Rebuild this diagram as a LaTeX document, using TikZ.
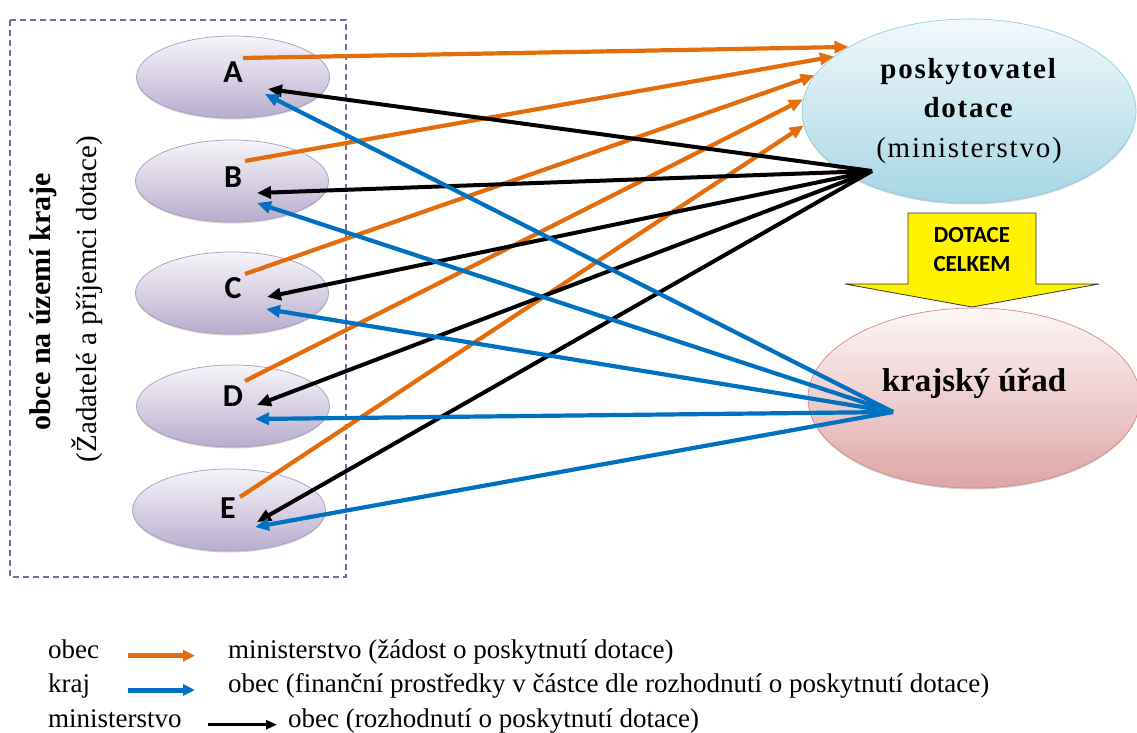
\documentclass[tikz,border=0pt]{standalone}
\usepackage{fontspec}
\setmainfont{Liberation Serif}
\newfontfamily\calibrifont{Carlito}
\newfontfamily\spacedfont[LetterSpace=6]{Liberation Serif}
\usetikzlibrary{arrows.meta,positioning,shapes.geometric,shadows}

\definecolor{reqorange}{HTML}{E46C0A}
\definecolor{payblue}{HTML}{0070C0}
\definecolor{frameviolet}{HTML}{8064A2}
\definecolor{obectop}{HTML}{F7F5FA}
\definecolor{obecbot}{HTML}{B9ADCE}
\definecolor{obecline}{HTML}{A899C6}
\definecolor{mintop}{HTML}{F2F9FC}
\definecolor{minbot}{HTML}{A6D5E4}
\definecolor{minline}{HTML}{93CDDD}
\definecolor{krajtop}{HTML}{FDF7F7}
\definecolor{krajbot}{HTML}{DFA6A6}
\definecolor{krajline}{HTML}{D48A8A}

\tikzset{
  obec/.style={ellipse, minimum width=193pt, minimum height=82pt, inner sep=0pt,
    draw=obecline, line width=0.7pt, top color=obectop, bottom color=obecbot,
    drop shadow={shadow xshift=0pt, shadow yshift=-1.5pt, opacity=0.35}},
  letter/.style={font=\calibrifont\bfseries\fontsize{32}{34}\selectfont, inner sep=0pt},
  sidetxt/.style={rotate=90, inner sep=0pt, font=\fontsize{29}{32}\selectfont},
  zadost/.style={draw=reqorange, line width=4.2pt, -{Triangle[length=14pt,width=12pt]}},
  rozhodnuti/.style={draw=black, line width=4pt, -{Triangle[length=14pt,width=12pt]}},
  platba/.style={draw=payblue, line width=4.2pt, -{Triangle[length=14pt,width=12pt]}},
  legtxt/.style={inner sep=0pt, anchor=base west, font=\fontsize{27}{30}\selectfont},
}

\begin{document}
\begin{tikzpicture}[x=1pt,y=-1pt]
\useasboundingbox[fill=white] (0,0) rectangle (1137,733);

% ramecek obci
\draw[frameviolet, line width=1.8pt, dash pattern=on 6pt off 4pt] (10,20) rectangle (346,577);

% obce
\node[obec] (obecA) at (233,77) {};
\node[obec] (obecB) at (232,181) {};
\node[obec] (obecC) at (232,293) {};
\node[obec] (obecD) at (233,406) {};
\node[obec] (obecE) at (229,510) {};
\node[letter] (labA) at (233,72) {A};
\node[letter] (labB) at (233,177) {B};
\node[letter] (labC) at (233,288) {C};
\node[letter] (labD) at (233,396) {D};
\node[letter] (labE) at (228,508) {E};

\node[sidetxt, font=\bfseries\fontsize{30}{32}\selectfont] (sideTitle) at (43,302) {obce na území kraje};
\node[sidetxt] (sideSub) at (87,299) {(Žadatelé a příjemci dotace)};

% poskytovatel a kraj
\node[ellipse, minimum width=334pt, minimum height=184pt, inner sep=0pt, align=center,
  draw=minline, line width=0.7pt, top color=mintop, bottom color=minbot,
  drop shadow={shadow xshift=0pt, shadow yshift=-1.5pt, opacity=0.35},
  font=\spacedfont\fontsize{29}{39.5}\selectfont] (posk) at (969,111)
  {\textbf{poskytovatel}\\\textbf{dotace}\\(ministerstvo)};
\node[ellipse, minimum width=332pt, minimum height=180pt, inner sep=0pt,
  draw=krajline, line width=0.7pt, top color=krajtop, bottom color=krajbot,
  drop shadow={shadow xshift=0pt, shadow yshift=-1.5pt, opacity=0.35}] (kraj) at (974,398) {};
\node[font=\bfseries\fontsize{33}{36}\selectfont, inner sep=0pt] (krajLbl) at (974,383) {krajský úřad};

% sipka dotace celkem
\draw[fill=yellow, draw=black!80, line width=0.8pt] (908,213) -- (1036,213) -- (1036,284) -- (1099,284)
  -- (972,307) -- (845,284) -- (908,284) -- cycle;
\node[font=\calibrifont\bfseries\fontsize{23}{29}\selectfont, align=center, inner sep=0pt] (dotLbl) at (972,250) {DOTACE\\CELKEM};

% body na obcich
\coordinate (srcMin) at ([shift={(-97,60)}]posk.center);
\coordinate (srcKraj) at ([shift={(-81,14)}]kraj.center);
\coordinate (outA) at ([shift={(10,-19)}]obecA.center);
\coordinate (outB) at ([shift={(13,-20)}]obecB.center);
\coordinate (outC) at ([shift={(13,-19)}]obecC.center);
\coordinate (outD) at ([shift={(12,-25)}]obecD.center);
\coordinate (outE) at ([shift={(11,-13)}]obecE.center);
\coordinate (inA) at ([shift={(35,12)}]obecA.center);
\coordinate (inB) at ([shift={(25,12)}]obecB.center);
\coordinate (inC) at ([shift={(35,4)}]obecC.center);
\coordinate (inD) at ([shift={(24,-1)}]obecD.center);
\coordinate (inE) at ([shift={(28,12)}]obecE.center);
\coordinate (payA) at ([shift={(32,17)}]obecA.center);
\coordinate (payB) at ([shift={(25,22)}]obecB.center);
\coordinate (payC) at ([shift={(34,16)}]obecC.center);
\coordinate (payD) at ([shift={(22,13)}]obecD.center);
\coordinate (payE) at ([shift={(26,17)}]obecE.center);

% zadosti obci
\draw[zadost] (outA) -- (posk.152);
\draw[zadost] (outB) -- (posk.158);
\draw[zadost] (outC) -- (posk.167);
\draw[zadost] (outD) -- (posk.176);
\draw[zadost] (outE) -- (posk.185);

% rozhodnuti ministerstva
\draw[rozhodnuti] (srcMin) -- (inA);
\draw[rozhodnuti] (srcMin) -- (inB);
\draw[rozhodnuti] (srcMin) -- (inC);
\draw[rozhodnuti] (srcMin) -- (inD);
\draw[rozhodnuti] (srcMin) -- (inE);

% penize z kraje
\draw[platba] (srcKraj) -- (payA);
\draw[platba] (srcKraj) -- (payB);
\draw[platba] (srcKraj) -- (payC);
\draw[platba] (srcKraj) -- (payD);
\draw[platba] (srcKraj) -- (payE);

% legenda
\node[legtxt] (legObec) at (48,658) {obec};
\node[legtxt] (legObecT) at (228,658) {ministerstvo (žádost o poskytnutí dotace)};
\node[legtxt] (legKraj) at (48,692) {kraj};
\node[legtxt] (legKrajT) at (228,692) {obec (finanční prostředky v částce dle rozhodnutí o poskytnutí dotace)};
\node[legtxt] (legMin) at (48,727) {ministerstvo};
\node[legtxt] (legMinT) at (288,727) {obec (rozhodnutí o poskytnutí dotace)};

\draw[draw=reqorange, line width=5pt, shorten <=29pt, shorten >=33pt, -{Triangle[length=12pt,width=11pt]}]
  (legObec.mid east) -- (legObec.mid east -| legObecT.west);
\draw[draw=payblue, line width=5pt, shorten <=38pt, shorten >=33pt, -{Triangle[length=12pt,width=11pt]}]
  ([yshift=2pt]legKraj.base east) -- ([yshift=2pt]legKraj.base east -| legKrajT.west);
\draw[draw=black, line width=2.5pt, shorten <=26pt, shorten >=11pt, -{Triangle[length=11pt,width=9pt]}]
  (legMin.mid east) -- (legMin.mid east -| legMinT.west);
\end{tikzpicture}
\end{document}
